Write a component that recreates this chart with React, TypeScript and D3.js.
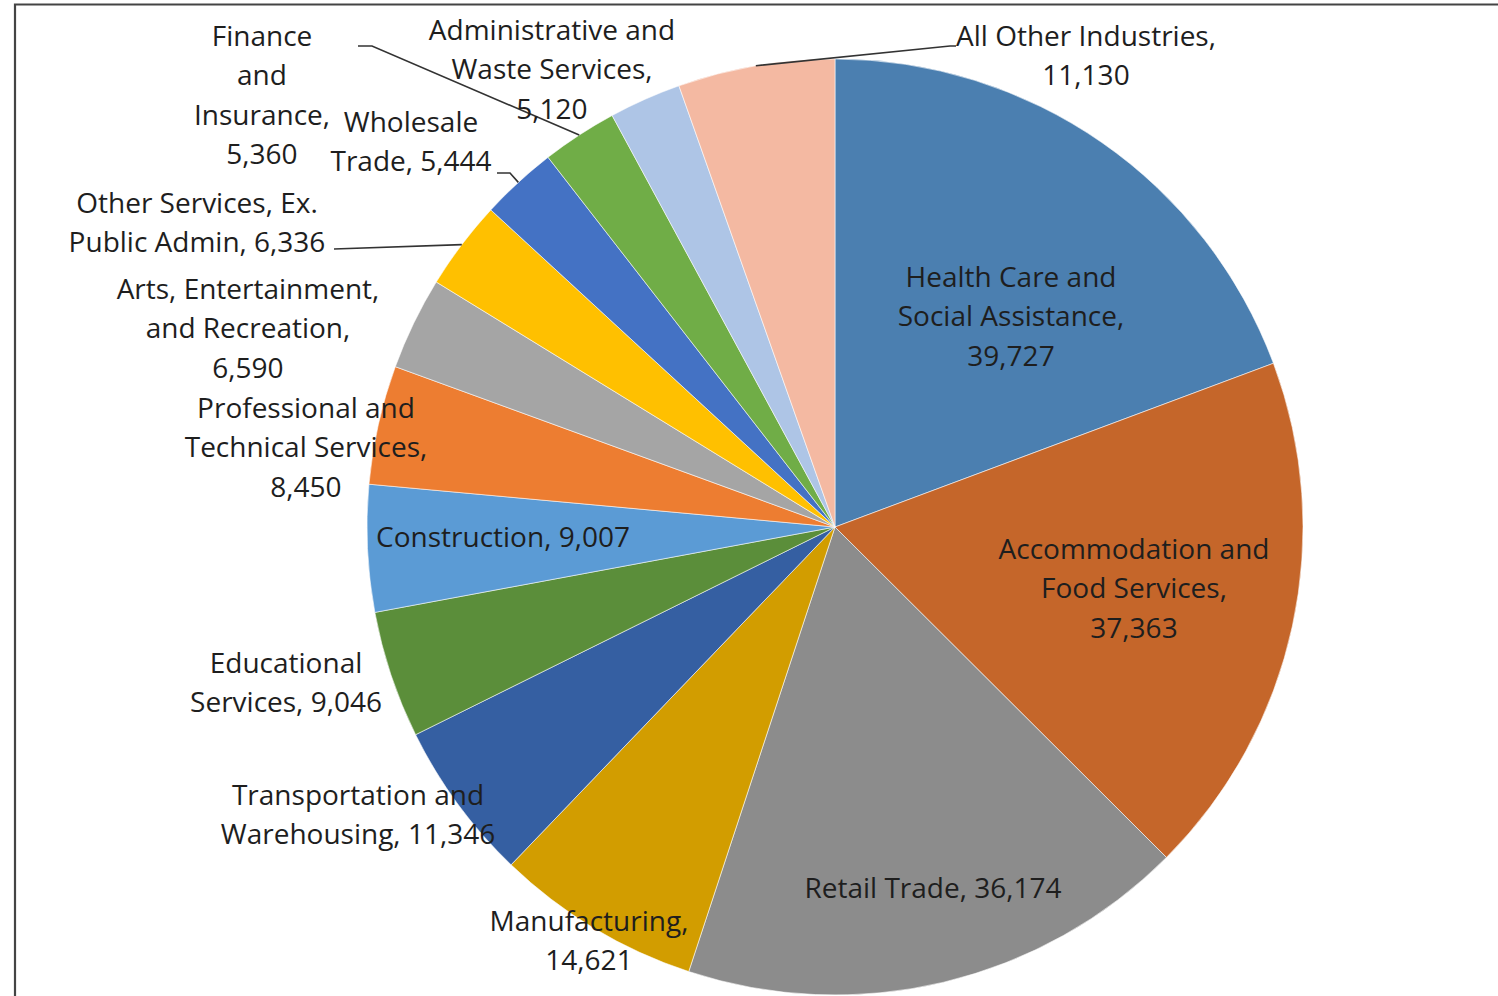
import React, { useEffect, useRef } from "react";
import * as d3 from "d3";

// industries, clockwise from 12 o'clock
const industries = [
  "Health Care and Social Assistance",
  "Accommodation and Food Services",
  "Retail Trade",
  "Manufacturing",
  "Transportation and Warehousing",
  "Educational Services",
  "Construction",
  "Professional and Technical Services",
  "Arts, Entertainment, and Recreation",
  "Other Services, Ex. Public Admin",
  "Wholesale Trade",
  "Finance and Insurance",
  "Administrative and Waste Services",
  "All Other Industries",
];

const employment = [39727, 37363, 36174, 14621, 11346, 9046, 9007, 8450, 6590, 6336, 5444, 5360, 5120, 11130];

// label text as wrapped in the original
const labelLines = [
  ["Health Care and", "Social Assistance,", "39,727"],
  ["Accommodation and", "Food Services,", "37,363"],
  ["Retail Trade, 36,174"],
  ["Manufacturing,", "14,621"],
  ["Transportation and", "Warehousing, 11,346"],
  ["Educational", "Services, 9,046"],
  ["Construction, 9,007"],
  ["Professional and", "Technical Services,", "8,450"],
  ["Arts, Entertainment,", "and Recreation,", "6,590"],
  ["Other Services, Ex.", "Public Admin, 6,336"],
  ["Wholesale", "Trade, 5,444"],
  ["Finance", "and", "Insurance,", "5,360"],
  ["Administrative and", "Waste Services,", "5,120"],
  ["All Other Industries,", "11,130"],
];

const colors = [
  "#4b7fb0", "#c5662a", "#8c8c8c", "#d29d00", "#355fa2", "#5b8e3a", "#5b9bd5",
  "#ed7d31", "#a5a5a5", "#ffc000", "#4472c4", "#70ad47", "#aec5e6", "#f4b9a2",
];

// label placement: centre x, y of first line; leader = [elbow, end] or null
const labelPlace: { x: number; y: number; leader: [number, number][] | null }[] = [
  { x: 1011, y: 277, leader: null },
  { x: 1134, y: 549, leader: null },
  { x: 933, y: 888, leader: null },
  { x: 589, y: 921, leader: null },
  { x: 358, y: 795, leader: null },
  { x: 286, y: 663, leader: null },
  { x: 503, y: 537, leader: null },
  { x: 306, y: 408, leader: null },
  { x: 248, y: 289, leader: null },
  { x: 197, y: 203, leader: [[334, 249], [334, 249]] },
  { x: 411, y: 122, leader: [[510, 173], [497, 173]] },
  { x: 262, y: 36, leader: [[372, 46], [358, 46]] },
  { x: 552, y: 30, leader: null },
  { x: 1086, y: 36, leader: [[950, 46], [956, 46]] },
];

const width = 1498;
const height = 996;
const cx = 835;
const cy = 527;
const radius = 468;
const lineGap = 39.3;

export default function App() {
  const svgRef = useRef<SVGSVGElement | null>(null);

  useEffect(() => {
    document.body.style.margin = "0";
    const svg = d3.select(svgRef.current);
    svg.selectAll("*").remove();

    // outer frame (only top and left visible in the crop)
    svg.append("path")
      .attr("d", `M15,${height + 5} L15,4.5 L${width + 5},4.5`)
      .attr("fill", "none")
      .attr("stroke", "#444")
      .attr("stroke-width", 2.2);

    const pie = d3.pie<number>().sort(null).value((d) => d);
    const arcs = pie(employment);
    const arc = d3.arc<d3.PieArcDatum<number>>().innerRadius(0).outerRadius(radius);

    const g = svg.append("g").attr("transform", `translate(${cx},${cy})`);
    g.selectAll("path.slice")
      .data(arcs)
      .enter()
      .append("path")
      .attr("class", "slice")
      .attr("d", arc)
      .attr("fill", (_, i) => colors[i])
      .attr("stroke", "#ffffff")
      .attr("stroke-opacity", 0.7)
      .attr("stroke-width", 0.8);

    // leader lines from slice edge mid-angle to the label
    arcs.forEach((a, i) => {
      const lead = labelPlace[i].leader;
      if (!lead) return;
      const mid = (a.startAngle + a.endAngle) / 2;
      const sx = cx + radius * Math.sin(mid);
      const sy = cy - radius * Math.cos(mid);
      const pts: [number, number][] = [[sx, sy], ...lead];
      svg.append("path")
        .attr("d", d3.line()(pts))
        .attr("fill", "none")
        .attr("stroke", "#333")
        .attr("stroke-width", 1.6);
    });

    // data labels
    labelLines.forEach((lines, i) => {
      const p = labelPlace[i];
      const t = svg.append("text")
        .attr("text-anchor", "middle")
        .attr("font-family", "'Open Sans', sans-serif")
        .attr("font-size", 28)
        .attr("fill", "#1e1e1e");
      lines.forEach((ln, k) => {
        t.append("tspan")
          .attr("x", p.x)
          .attr("y", p.y + k * lineGap)
          .attr("dy", "0.36em")
          .text(ln);
      });
    });
  }, []);

  return <svg ref={svgRef} width={width} height={height} style={{ display: "block", background: "#fff" }} />;
}
